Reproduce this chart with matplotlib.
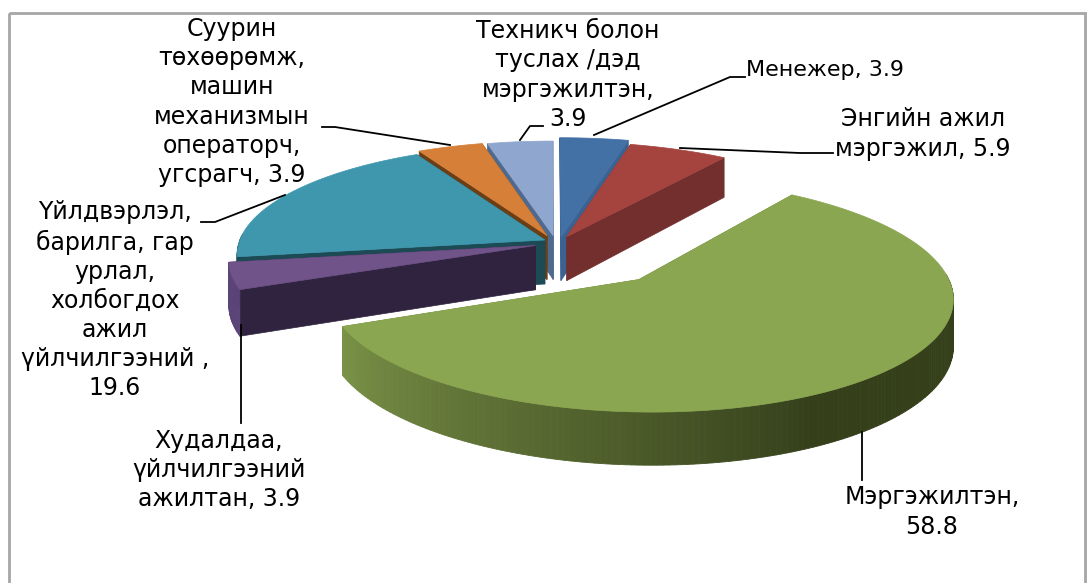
import numpy as np
import matplotlib.pyplot as plt
from matplotlib.patches import Polygon, Rectangle

# data, clockwise from 12 o'clock
labels = ['Менежер, 3.9',
          'Энгийн ажил\nмэргэжил, 5.9',
          'Мэргэжилтэн,\n58.8',
          'Худалдаа,\nүйлчилгээний\nажилтан, 3.9',
          'Үйлдвэрлэл,\nбарилга, гар\nурлал,\nхолбогдох\nажил\nүйлчилгээний ,\n19.6',
          'Суурин\nтөхөөрөмж,\nмашин\nмеханизмын\nоператорч,\nугсрагч, 3.9',
          'Техникч болон\nтуслах /дэд\nмэргэжилтэн,\n3.9']
values = [3.9, 5.9, 58.8, 3.9, 19.6, 3.9, 3.9]

# styles
tops = ['#4471a5', '#a5443f', '#8aa650', '#6f5389', '#3f97ae', '#d67f38', '#8fa6cf']
faces = ['#3a6292', '#722f2d', '#6f8a40', '#2f233f', '#1c4a55', '#6b3e15', '#4f6a8f']
arc_light = ['#3a6292', '#722f2d', '#7b9348', '#5a4478', '#1c4a55', '#6b3e15', '#4f6a8f']
arc_dark = ['#3a6292', '#722f2d', '#35401b', '#5a4478', '#1c4a55', '#6b3e15', '#4f6a8f']
shift_x = [0.033, 0.052, 0.275, -0.05, -0.02, -0.013, 0.007]
shift_y = [0.03, 0.03, -0.35, -0.05, 0.0, 0.04, 0.04]
radius = [1.05, 1.0, 0.97, 0.99, 1.0, 1.0, 1.0]
draw_order = [6, 5, 4, 0, 1, 3, 2]

cx, cy = 551, 240
Rx, Ry, persp, depth = 305, 108, 0.13, 44


def project(X, Y, low=False):
    s = 1 / (1 + persp * Y)
    return cx + Rx * X * s, cy - Ry * Y * s + (depth * s if low else 0)


def rgb(c):
    return np.array(plt.matplotlib.colors.to_rgb(c))


fig = plt.figure(figsize=(10.91, 5.83), dpi=100)
ax = fig.add_axes([0, 0, 1, 1])
ax.set_xlim(0, 1091)
ax.set_ylim(583, 0)
ax.axis('off')

ax.add_patch(Rectangle((9, 13), 1076, 600, fill=False, ec='#a6a6a6', lw=2, zorder=0))

edges = np.cumsum([0] + values) / np.sum(values) * 360
for i in draw_order:
    th = np.radians(np.arange(edges[i], edges[i + 1], 1.0).tolist() + [edges[i + 1]])
    X = shift_x[i] + radius[i] * np.sin(th)
    Y = shift_y[i] + radius[i] * np.cos(th)
    x0, y0 = project(shift_x[i], shift_y[i])
    x0l, y0l = project(shift_x[i], shift_y[i], True)
    xt, yt = project(X, Y)
    xb, yb = project(X, Y, True)
    # radial faces
    for k in [0, -1]:
        ax.add_patch(Polygon([(x0, y0), (xt[k], yt[k]), (xb[k], yb[k]), (x0l, y0l)],
                             fc=faces[i], ec=faces[i], lw=0.5))
    # outer wall, shaded by angle
    for k in range(len(th) - 1):
        if np.cos(th[k]) > 0.05:
            continue
        t = np.clip((247 - np.degrees(th[k])) / 95, 0, 1)
        col = (1 - t) * rgb(arc_light[i]) + t * rgb(arc_dark[i])
        ax.add_patch(Polygon([(xt[k], yt[k]), (xt[k + 1], yt[k + 1]),
                              (xb[k + 1], yb[k + 1]), (xb[k], yb[k])],
                             fc=col, ec=col, lw=0.6))
    ax.add_patch(Polygon(np.r_[[[x0, y0]], np.c_[xt, yt]], fc=tops[i], ec=tops[i], lw=0.5))

# leader lines
leaders = [[(594, 135), (730, 77), (745, 77)],
           [(680, 148), (800, 153), (833, 153)],
           [(862, 432), (862, 480)],
           [(241, 325), (241, 423)],
           [(285, 195), (215, 222), (201, 222)],
           [(450, 145), (335, 127), (322, 127)],
           [(520, 140), (530, 126), (543, 126)]]
for pts in leaders:
    ax.plot(*zip(*pts), color='black', lw=1.3, zorder=5)

# label positions (centre of text block)
label_x = [825, 923, 932, 219, 115, 232, 568]
label_y = [70, 134, 512, 470, 300, 102, 75]
label_size = [16, 17, 17, 17, 17, 17, 17]
for s, x, y, fs in zip(labels, label_x, label_y, label_size):
    ax.text(x, y, s, ha='center', va='center', fontsize=fs, linespacing=1.265,
            family='DejaVu Sans', color='black', zorder=6)

fig.savefig('out.png', dpi=100)
